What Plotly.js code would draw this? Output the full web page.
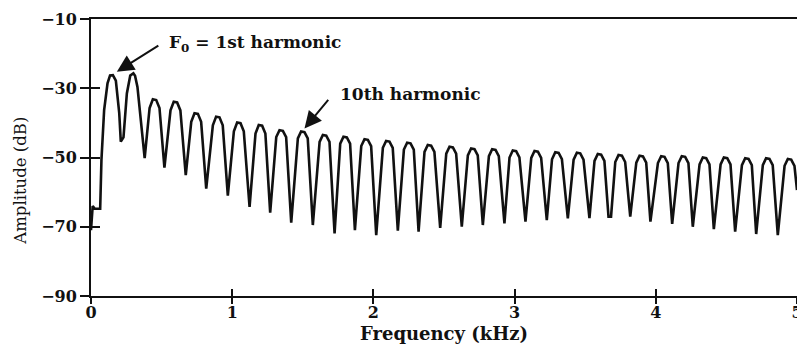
<!DOCTYPE html>
<html>
<head>
<meta charset="utf-8">
<script src="https://cdn.plot.ly/plotly-3.0.1.min.js"></script>
<style>html,body{margin:0;padding:0;background:#fff;}#chart{width:797px;height:347px;}</style>
</head>
<body>
<div id="chart"></div>
<script>
// Spectrum polyline vertices (kHz, dB)
const freqKHz = [
0.000,0.012,0.027,0.065,0.074,0.093,0.117,0.135,0.155,0.176,0.200,0.211,0.230,0.254,0.278,0.300,0.312,0.329,0.380,
0.415,0.438,0.462,0.485,0.520,
0.563,0.586,0.610,0.633,0.671,
0.710,0.733,0.757,0.780,0.816,
0.863,0.886,0.910,0.933,0.969,
1.012,1.035,1.059,1.082,1.123,
1.165,1.188,1.212,1.235,1.269,
1.312,1.335,1.359,1.382,1.418,
1.465,1.488,1.512,1.535,1.571,
1.619,1.642,1.666,1.689,1.725,
1.765,1.788,1.812,1.835,1.869,
1.914,1.937,1.961,1.984,2.020,
2.067,2.090,2.114,2.137,2.173,
2.216,2.239,2.263,2.286,2.320,
2.362,2.385,2.409,2.432,2.473,
2.516,2.539,2.563,2.586,2.626,
2.669,2.692,2.716,2.739,2.775,
2.818,2.841,2.865,2.888,2.928,
2.964,2.987,3.011,3.034,3.077,
3.118,3.141,3.165,3.188,3.228,
3.265,3.288,3.312,3.335,3.377,
3.418,3.441,3.465,3.488,3.530,
3.566,3.589,3.613,3.636,3.665,3.683,
3.713,3.736,3.760,3.783,3.819,
3.862,3.885,3.909,3.932,3.962,
4.015,4.038,4.062,4.085,4.116,
4.161,4.184,4.208,4.231,4.262,
4.310,4.333,4.357,4.380,4.411,
4.459,4.482,4.506,4.529,4.562,
4.610,4.633,4.657,4.680,4.711,
4.758,4.781,4.805,4.828,4.864,
4.912,4.935,4.959,4.982,5.000
];
const ampDB = [
-71.0,-64.0,-64.8,-64.8,-50.7,-36.3,-28.6,-26.3,-26.2,-27.8,-37.2,-45.4,-44.2,-31.5,-26.3,-25.7,-26.4,-29.6,-50.2,
-35.7,-33.2,-33.4,-35.7,-52.9,
-36.4,-33.9,-34.1,-36.4,-55.1,
-39.7,-37.2,-37.4,-39.7,-59.0,
-40.7,-38.2,-38.4,-40.7,-61.0,
-42.4,-39.9,-40.1,-42.4,-64.3,
-43.1,-40.6,-40.8,-43.1,-65.9,
-44.1,-42.1,-42.3,-44.1,-68.8,
-44.5,-42.5,-42.7,-44.5,-69.5,
-45.5,-43.5,-43.7,-45.5,-71.9,
-46.0,-44.0,-44.2,-46.0,-71.0,
-46.7,-44.7,-44.9,-46.7,-72.4,
-47.2,-45.2,-45.4,-47.2,-71.1,
-47.7,-45.7,-45.9,-47.7,-71.4,
-48.4,-46.4,-46.6,-48.4,-70.3,
-48.9,-46.9,-47.1,-48.9,-70.0,
-49.4,-47.4,-47.6,-49.4,-69.5,
-49.6,-47.6,-47.8,-49.6,-69.0,
-50.0,-48.0,-48.2,-50.0,-68.5,
-50.1,-48.1,-48.3,-50.1,-68.1,
-50.5,-48.5,-48.7,-50.5,-67.6,
-50.6,-48.6,-48.8,-50.6,-67.5,
-51.0,-49.0,-49.2,-51.0,-67.1,-67.1,
-51.3,-49.3,-49.5,-51.3,-67.1,
-51.5,-49.5,-49.7,-51.5,-68.5,
-51.6,-49.6,-49.8,-51.6,-69.2,
-51.6,-49.6,-49.8,-51.6,-70.0,
-52.0,-50.0,-50.2,-52.0,-70.7,
-52.0,-50.0,-50.2,-52.0,-71.4,
-52.2,-50.2,-50.4,-52.2,-72.1,
-52.2,-50.2,-50.4,-52.2,-72.4,
-52.4,-50.4,-50.6,-52.4,-59.4
];
const xTicks = [0, 1, 2, 3, 4, 5];
const yTicks = [-90, -70, -50, -30, -10];
const xTitle = "Frequency (kHz)";
const yTitle = "Amplitude (dB)";
const label1 = "F<sub>0</sub> = 1st harmonic";
const label2 = "10th harmonic";

const serif = "DejaVu Serif, Liberation Serif, serif";

const traces = [
  {x: freqKHz, y: ampDB, type: "scatter", mode: "lines",
   line: {color: "#111", width: 2.6}, hoverinfo: "skip", showlegend: false},
  {x: freqKHz, y: ampDB, type: "scatter", mode: "lines", xaxis: "x2", yaxis: "y2",
   line: {color: "rgba(0,0,0,0)", width: 0}, hoverinfo: "skip", showlegend: false}
];

const layout = {
  width: 797, height: 347,
  margin: {l: 91, r: 0, t: 19, b: 51},
  paper_bgcolor: "#fff", plot_bgcolor: "#fff",
  showlegend: false,
  font: {family: serif, color: "#111"},
  xaxis: {
    range: [0, 5], tickvals: xTicks, ticks: "inside", ticklen: 7, tickwidth: 2, tickcolor: "#111",
    ticklabeloverflow: "allow", ticklabelstandoff: 1,
    showline: true, linecolor: "#111", linewidth: 2, mirror: true,
    showgrid: false, zeroline: false,
    tickfont: {family: serif, size: 16, weight: "bold", color: "#111"},
    title: {text: xTitle, font: {family: serif, size: 18, weight: "bold", color: "#111"}, standoff: 6}
  },
  yaxis: {
    range: [-90, -10], tickvals: yTicks, ticks: "outside", ticklen: 9, tickwidth: 2, tickcolor: "#111",
    showline: true, linecolor: "#111", linewidth: 2,
    showgrid: false, zeroline: false,
    tickfont: {family: serif, size: 16, weight: "bold", color: "#111"}
  },
  xaxis2: {
    overlaying: "x", anchor: "y2", side: "bottom", range: [0, 5], tickvals: xTicks,
    ticks: "outside", ticklen: 7, tickwidth: 2, tickcolor: "#111",
    showticklabels: false, showline: false, showgrid: false, zeroline: false
  },
  yaxis2: {
    overlaying: "y", anchor: "x2", side: "left", range: [-90, -10], tickvals: yTicks,
    ticks: "inside", ticklen: 9, tickwidth: 2, tickcolor: "#111",
    showticklabels: false, showline: false, showgrid: false, zeroline: false
  },
  annotations: [
    {xref: "paper", yref: "paper", x: -0.101, y: 0.415, text: yTitle, textangle: -90,
     showarrow: false, xanchor: "center", yanchor: "middle",
     font: {family: serif, size: 16.5, color: "#111"}},
    {x: 0.183, y: -25.2, xref: "x", yref: "y", text: "", showarrow: true,
     ax: 43, ay: -27, arrowhead: 2, arrowsize: 1.7, arrowwidth: 2, arrowcolor: "#111", standoff: 0},
    {x: 1.512, y: -41.6, xref: "x", yref: "y", text: "", showarrow: true,
     ax: 25, ay: -30, arrowhead: 2, arrowsize: 1.7, arrowwidth: 2, arrowcolor: "#111", standoff: 0},
    {x: 1.158, y: -17.0, xref: "x", yref: "y", text: label1, showarrow: false, xanchor: "center",
     font: {family: serif, size: 17, weight: "bold", color: "#111"}},
    {x: 2.263, y: -31.7, xref: "x", yref: "y", text: label2, showarrow: false, xanchor: "center",
     font: {family: serif, size: 17, weight: "bold", color: "#111"}}
  ]
};

Plotly.newPlot("chart", traces, layout, {displayModeBar: false, staticPlot: true});
</script>
</body>
</html>
